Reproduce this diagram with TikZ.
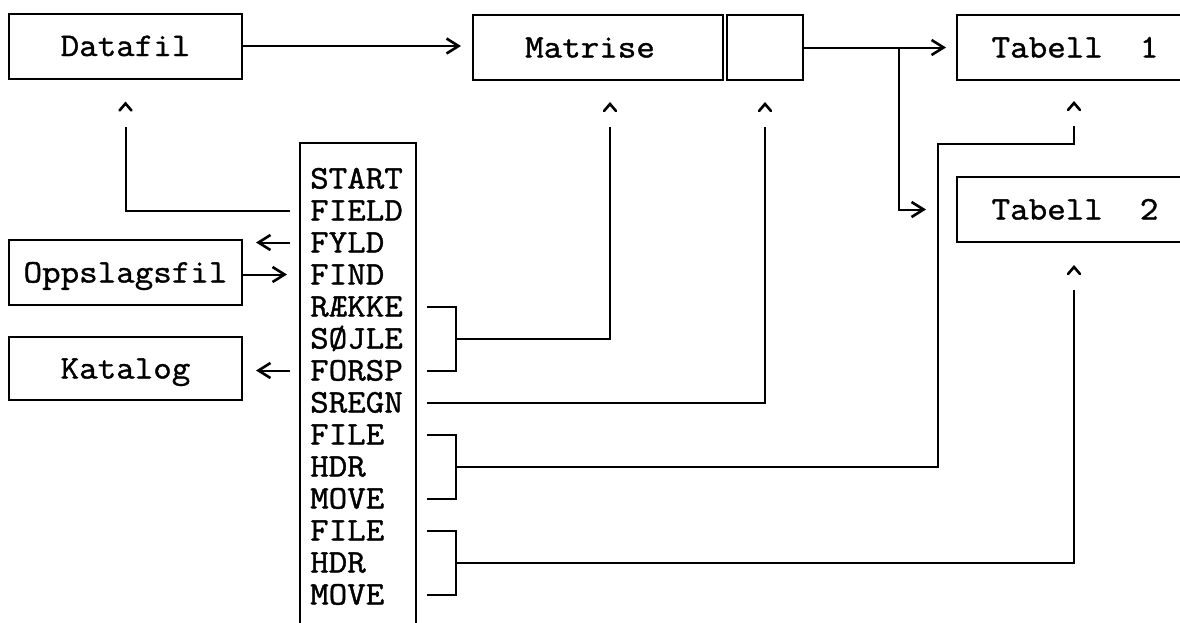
\documentclass[tikz,border=0pt]{standalone}
\usepackage{fontspec}
\newfontfamily\tw{Latin Modern Mono}[FakeBold=1.2,FakeStretch=1.09]
\usetikzlibrary{arrows.meta,calc}
\begin{document}
\begin{tikzpicture}[x=1pt,y=-1pt,
  every node/.style={font=\tw\fontsize{33}{33}\selectfont},
  box/.style={draw, line width=2pt, inner sep=0pt, minimum height=65pt, text height=20pt, text depth=0pt},
  cmdtxt/.style={anchor=west, inner sep=0pt, text height=20pt, text depth=0pt},
  conn/.style={line width=2pt},
  gt/.style={conn, -{Straight Barb[length=12pt,width=15pt,line width=2.6pt]}},
  caretline/.style={conn, shorten >=23pt},
  caretshape/.style={line width=2.6pt, line cap=round, line join=miter},
]
\newcommand\caretat[1]{\draw[caretshape] ($(#1)+(-6,7)$) -- (#1) -- ($(#1)+(6,7)$);}
\fill[white] (0,0) rectangle (1180,622);
\clip (0,0) rectangle (1180,622);

% boxes
\node[box, minimum width=233pt] (datafil) at (125.5,46) {Datafil};
\node[box, minimum width=250pt] (matrise) at (598,47.5) {\hspace*{-16pt}Matrise};
\node[box, minimum width=76pt] (cell) at (765,47.5) {};
\node[box, minimum width=236pt] (tab1) at (1075,47.5) {Tabell\ \ 1};
\node[box, minimum width=236pt] (tab2) at (1075,209.5) {Tabell\ \ 2};
\node[box, minimum width=233pt] (opp) at (125.5,272.5) {Oppslagsfil};
\node[box, minimum width=233pt, minimum height=63pt] (kat) at (125.5,368.5) {Katalog};
\node[draw, line width=2pt, minimum width=116pt, minimum height=500pt, inner sep=0pt] (cmd) at (358,393) {};

% command list
\node[cmdtxt] (start)  at (310,178.5) {START};
\node[cmdtxt] (field)  at (310,210.5) {FIELD};
\node[cmdtxt] (fyld)   at (310,242.5) {FYLD};
\node[cmdtxt] (find)   at (310,274.5) {FIND};
\node[cmdtxt] (raekke) at (310,306.5) {RÆKKE};
\node[cmdtxt] (sojle)  at (310,338.5) {SØJLE};
\node[cmdtxt] (forsp)  at (310,370.5) {FORSP};
\node[cmdtxt] (sregn)  at (310,402.5) {SREGN};
\node[cmdtxt] (fileA)  at (310,434.5) {FILE};
\node[cmdtxt] (hdrA)   at (310,466.5) {HDR};
\node[cmdtxt] (moveA)  at (310,498.5) {MOVE};
\node[cmdtxt] (fileB)  at (310,530.5) {FILE};
\node[cmdtxt] (hdrB)   at (310,562.5) {HDR};
\node[cmdtxt] (moveB)  at (310,594.5) {MOVE};

% caret positions (apex of each ^)
\coordinate (cD)  at ($(datafil.south)+(0,24)$);
\coordinate (cM)  at ($(matrise.south)+(12,23)$);
\coordinate (cC)  at ($(cell.south)+(0,23)$);
\coordinate (cT1) at ($(tab1.south)+(-1,22)$);
\coordinate (cT2) at ($(tab2.south)+(-1,24)$);
\foreach \c in {cD,cM,cC,cT1,cT2} {\caretat{\c}}

% top flow
\draw[gt, shorten >=11pt] (datafil.east) -- (datafil.east -| matrise.west);
\draw[gt, shorten >=10pt] (cell.east) -- (tab1.west);
\coordinate (br) at (899,47.5);
\draw[gt, shorten >=30pt] (br) |- (tab2.west);

% left side
\draw[caretline] ($(cmd.west |- field)+(-9,0)$) -| (cD);
\draw[gt, shorten >=13pt] ($(cmd.west |- fyld)+(-9,0)$) -- (opp.east |- fyld);
\draw[gt, shorten >=12pt] (opp.east |- find) -- (cmd.west |- find);
\draw[gt, shorten >=13pt] ($(cmd.west |- forsp)+(-9,0)$) -- (kat.east |- forsp);

% brackets
\coordinate (b1) at ($(cmd.east |- sojle)+(39,0)$);
\draw[conn] ($(cmd.east |- raekke)+(10,0)$) -| (b1) |- ($(cmd.east |- forsp)+(10,0)$);
\draw[caretline] (b1) -| (cM);

\draw[caretline] ($(cmd.east |- sregn)+(10,0)$) -| (cC);

\coordinate (b2) at ($(cmd.east |- hdrA)+(39,0)$);
\draw[conn] ($(cmd.east |- fileA)+(10,0)$) -| (b2) |- ($(cmd.east |- moveA)+(10,0)$);
\coordinate (j1) at (938,144);
\draw[caretline] (b2) -| (j1) -| (cT1);

\coordinate (b3) at ($(cmd.east |- hdrB)+(39,0)$);
\draw[conn] ($(cmd.east |- fileB)+(10,0)$) -| (b3) |- ($(cmd.east |- moveB)+(10,0)$);
\draw[caretline] (b3) -| (cT2);
\end{tikzpicture}
\end{document}
